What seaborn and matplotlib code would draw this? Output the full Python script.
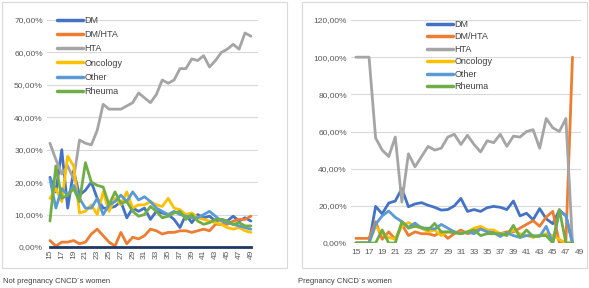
import pandas as pd
import seaborn as sns
import matplotlib.pyplot as plt
from matplotlib.patches import Rectangle
from matplotlib.ticker import FuncFormatter

# groups and colours (Excel office palette)
groups = ["DM", "DM/HTA", "HTA", "Oncology", "Other", "Rheuma"]
colors = ["#4472C4", "#ED7D31", "#A5A5A5", "#FFC000", "#5B9BD5", "#70AD47"]

# Not pregnant women, ages 15..49 (% of CNCD)
ages_np = list(range(15, 50))
np_dm = [21.5, 17, 30, 12, 23.5, 16, 17.5, 20, 15, 12, 12, 12.5, 14, 9, 12, 11, 12, 8.5,
         11, 10.5, 10, 8.5, 6, 10, 7.5, 10, 9, 9.5, 8, 8.5, 8, 9.5, 8, 9, 8]
np_dmhta = [2, 0.3, 1.5, 1.5, 2, 1, 1.5, 4, 5.5, 3.5, 1.5, 0.3, 4.5, 1, 3, 2.5, 3.5, 5.5,
            5, 4, 4.5, 4.5, 5, 5, 4.5, 5, 5.5, 5, 7, 7, 7, 8, 8.5, 8.5, 9.5]
np_hta = [32, 27, 22.5, 25, 21, 33, 32, 31.5, 36, 44, 42.5, 42.5, 42.5, 43.5, 44.5, 47.5,
          46, 44.5, 47, 51.5, 50.5, 51.5, 55, 55, 58, 57.5, 59, 55.5, 57.5, 60, 61, 62.5,
          61, 66, 65]
np_onco = [15, 18, 14, 28, 25, 10.5, 11, 13, 10, 17, 11, 15, 13, 17, 12, 13, 13, 14, 13,
           12.5, 15, 12, 11.5, 10, 10.5, 9, 8.5, 8, 7.5, 7, 6, 5.5, 6, 5, 4.5]
np_other = [21, 12, 18, 16, 19, 15, 12, 12, 15, 10, 13, 14, 16, 14, 17, 14.5, 15.5, 14, 12,
            11, 10, 11, 10, 9.5, 9, 9, 10, 11, 9.5, 8, 7.5, 7, 6.5, 6, 5.5]
np_rheuma = [8, 25, 15, 16, 18, 14, 26, 20, 19, 18.5, 13, 17, 13.5, 14, 11, 9.5, 10, 12.5,
             11, 9, 9.5, 10.5, 11, 8.5, 10, 8, 7, 7.5, 8.5, 8.5, 8, 7, 7.5, 6.5, 6.5]

# Pregnant women, ages 15..48 (% of CNCD)
ages_p = list(range(15, 49))
p_dm = [0, 0, 0, 19.7, 15.7, 21.5, 22.6, 29.3, 19.5, 21, 21.7, 20.3, 19.2, 17.7, 18, 20,
        24, 17, 18, 17, 19, 19.7, 19.2, 18, 22.6, 14.6, 16, 12.5, 18.5, 13, 10.4, 17.7,
        14.6, 0]
p_dmhta = [2.5, 2.5, 2.5, 11.5, 2, 6, 2, 10, 4, 6, 5, 5, 4, 6, 2.5, 5, 7, 5, 6, 8, 7, 6,
           5, 6, 6, 8, 10, 12, 9, 14, 17, 0, 1, 100]
p_hta = [100, 100, 100, 56.5, 50, 46.5, 57, 22, 48, 41, 46.5, 52, 50, 51, 57, 58.5, 53,
         58, 53, 49, 55, 54, 58.5, 52, 57.5, 57, 60, 61, 51, 67, 62, 60, 67, 0]
p_onco = [0, 0, 0, 9, 5, 3, 2, 9, 11, 9, 8, 6, 7, 4, 6, 6, 5, 6, 8, 9, 7, 7, 5, 5, 7, 5,
          4, 3, 4, 5, 4, 2, 0, 0]
p_other = [0, 0, 0, 10, 14.6, 17.2, 13.8, 11.5, 8.4, 10.7, 8, 8, 7.5, 10, 8, 6, 5, 6, 5,
           7.5, 6, 5.5, 3.5, 5.5, 4, 3, 4, 4, 3.5, 9, 0, 17, 15, 0]
p_rheuma = [0, 0, 0, 0, 7, 0, 0, 11.5, 8, 9, 8.5, 7, 10.5, 6, 6, 5.5, 5, 6, 7, 4, 5, 5, 5,
            4, 9.5, 3, 7, 3.5, 4, 4, 0, 18, 0, 0]

captions = ["Not pregnancy CNCD´s women", "Pregnancy CNCD´s women"]


def long_df(ages, series):
    rows = []
    for g, vals in zip(groups, series):
        for a, v in zip(ages, vals):
            rows.append({"age": a, "group": g, "pct": v})
    return pd.DataFrame(rows)


df_np = long_df(ages_np, [np_dm, np_dmhta, np_hta, np_onco, np_other, np_rheuma])
df_p = long_df(ages_p, [p_dm, p_dmhta, p_hta, p_onco, p_other, p_rheuma])

sns.set_style("white")
plt.rcParams["font.family"] = ["Liberation Sans", "DejaVu Sans"]

fig = plt.figure(figsize=(5.89, 2.88), dpi=100)

# panel frames
for x0, w in [(2 / 589, 285 / 589), (302 / 589, 285 / 589)]:
    fig.patches.append(Rectangle((x0, 1 - 268 / 288), w, 266 / 288, transform=fig.transFigure,
                                 fill=False, edgecolor="#D9D9D9", linewidth=0.8))

ax1 = fig.add_axes([47 / 589, 1 - 247 / 288, 211 / 589, 227 / 288])
ax2 = fig.add_axes([351 / 589, 1 - 243 / 288, 230 / 589, 223 / 288])

pal = dict(zip(groups, colors))
pct_fmt = FuncFormatter(lambda v, _: f"{v:.2f}%".replace(".", ","))

for ax, df, ylim, ystep, xlim, rot, xpad in [
        (ax1, df_np, 70, 10, (14.5, 50.2), 90, 2),
        (ax2, df_p, 120, 20, (14.25, 49.3), 0, 4)]:
    sns.lineplot(data=df, x="age", y="pct", hue="group", hue_order=groups, palette=pal,
                 linewidth=2.0, sort=False, ax=ax)
    ax.set_ylim(0, ylim)
    ax.set_xlim(*xlim)
    ax.set_yticks(range(0, ylim + 1, ystep))
    ax.set_xticks(range(15, 50, 2))
    ax.yaxis.set_major_formatter(pct_fmt)
    ax.tick_params(axis="both", length=0, labelsize=6, labelcolor="#595959", pad=3)
    ax.tick_params(axis="x", rotation=rot, pad=xpad)
    ax.grid(axis="y", color="#D9D9D9", linewidth=0.8)
    ax.set_axisbelow(True)
    ax.set_xlabel("")
    ax.set_ylabel("")
    for s in ax.spines.values():
        s.set_visible(False)

# dark baseline in the left chart
ax1.spines["bottom"].set_visible(True)
ax1.spines["bottom"].set_color("#203864")
ax1.spines["bottom"].set_linewidth(2)
ax1.spines["bottom"].set_bounds(15, 49)
ax1.spines["bottom"].set_zorder(3)

for ax, anchor, spacing in [(ax1, (0.047, 1.018), 0.58), (ax2, (0.33, 1.0), 0.38)]:
    handles, labels = ax.get_legend_handles_labels()
    leg = ax.legend(handles, labels, loc="upper left", bbox_to_anchor=anchor, frameon=False,
                    fontsize=6.5, handlelength=2.9, handletextpad=0.15, labelspacing=spacing,
                    borderpad=0, borderaxespad=0)
    for ln in leg.get_lines():
        ln.set_linewidth(2.5)
    for t in leg.get_texts():
        t.set_color("#404040")

fig.text(3 / 589, 1 - 283 / 288, captions[0], fontsize=5.5, color="#404040")
fig.text(298 / 589, 1 - 283 / 288, captions[1], fontsize=5.5, color="#404040")

fig.savefig("out.png", dpi=100)
